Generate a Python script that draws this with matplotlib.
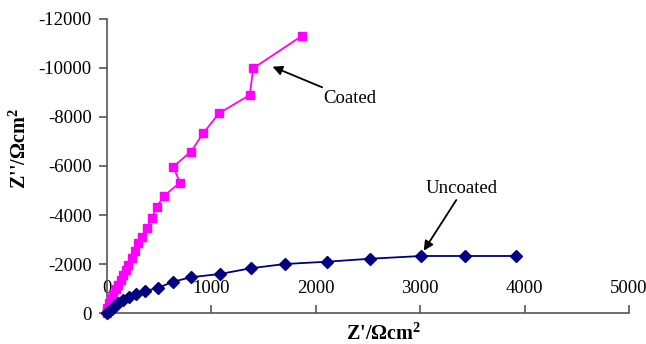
import matplotlib.pyplot as plt
from matplotlib.ticker import FuncFormatter

# Nyquist data (Z' and Z'' in ohm cm2)
uncoated_zr = [0, 14, 45, 77, 108, 150, 214, 274, 364, 485, 635, 801, 1081,
               1375, 1703, 2108, 2523, 3011, 3426, 3921]
uncoated_zi = [0, -40, -150, -286, -420, -531, -665, -776, -898, -1020, -1278,
               -1457, -1592, -1824, -2000, -2094, -2216, -2327, -2327, -2327]

coated_zr = [0, 0, 0, 16, 38, 60, 83, 108, 131, 156, 182, 204, 236, 268, 300,
             332, 380, 427, 475, 545, 699, 635, 804, 922, 1072, 1368, 1400, 1869]
coated_zi = [0, -40, -192, -396, -600, -776, -967, -1143, -1347, -1551, -1755,
             -1959, -2231, -2544, -2843, -3116, -3456, -3864, -4313, -4776,
             -5320, -5973, -6585, -7333, -8150, -8898, -9986, -11318]

x_ticks = [0, 1000, 2000, 3000, 4000, 5000]
y_ticks = [0, -2000, -4000, -6000, -8000, -10000, -12000]

plt.rcParams['font.family'] = ['Liberation Serif', 'DejaVu Serif']
plt.rcParams['mathtext.fontset'] = 'custom'
plt.rcParams['mathtext.rm'] = 'Liberation Serif'
plt.rcParams['mathtext.bf'] = 'Liberation Serif:bold'

fig = plt.figure(figsize=(6.46, 3.44), dpi=100)
ax = fig.add_axes([0.1656, 0.0901, 0.8081, 0.8547])

ax.plot(coated_zr, coated_zi, color='#FF00FF', lw=1.3, marker='s', ms=6,
        mec='#FF00FF', mfc='#FF00FF', clip_on=False, zorder=3)
ax.plot(uncoated_zr, uncoated_zi, color='#000080', lw=1.3, marker='D', ms=6,
        mec='#000080', mfc='#000080', clip_on=False, zorder=3)

ax.set_xlim(0, 5000)
ax.set_ylim(0, -12000)
ax.set_xticks(x_ticks)
ax.set_yticks(y_ticks)
fmt = FuncFormatter(lambda v, p: f"{v:.0f}")
ax.xaxis.set_major_formatter(fmt)
ax.yaxis.set_major_formatter(fmt)

for s in ['top', 'right']:
    ax.spines[s].set_visible(False)
for s in ['left', 'bottom']:
    ax.spines[s].set_color('#555555')
    ax.spines[s].set_linewidth(1.2)

ax.tick_params(axis='y', direction='out', length=6, width=1.2, color='#555555',
               labelsize=13.5, pad=5)
ax.tick_params(axis='x', direction='in', length=6, width=1.2, color='#555555',
               labelsize=13.5, pad=-24)

ax.text(-0.167, 0.56, r"Z''/Ωcm$^{\mathbf{2}}$", transform=ax.transAxes,
        rotation=90, ha='center', va='center', fontsize=14.5, fontweight='bold')
ax.text(0.53, -0.07, r"Z'/Ωcm$^{\mathbf{2}}$", transform=ax.transAxes,
        ha='center', va='center', fontsize=14.5, fontweight='bold')

ax.annotate("Coated", xy=(1586, -10053), xytext=(2067, -8750),
            fontsize=13.5, ha='left', va='center',
            arrowprops=dict(arrowstyle='-|>', color='black', lw=1.3,
                            mutation_scale=14, shrinkA=0, shrinkB=0))
ax.text(3397, -5100, "Uncoated", fontsize=13.5, ha='center', va='center')
ax.annotate("", xy=(3034, -2543), xytext=(3346, -4612),
            arrowprops=dict(arrowstyle='-|>', color='black', lw=1.3,
                            mutation_scale=14, shrinkA=0, shrinkB=0))

fig.savefig('out.png', dpi=100)
